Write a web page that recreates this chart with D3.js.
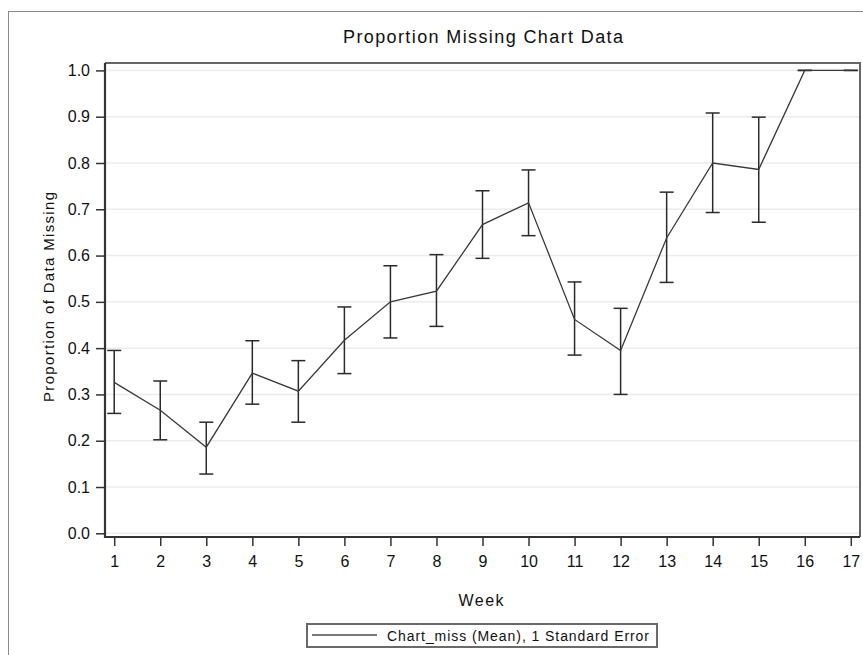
<!DOCTYPE html>
<html lang="en">
    <head>
        <meta charset="utf-8">
        <title>Proportion Missing Chart Data</title>
        <script src="https://cdn.jsdelivr.net/npm/d3@7"></script>
        <style type="text/css">
            body { margin: 0; background: #fff; }
            .axis text {
                font-family: "Liberation Sans", Arial, sans-serif;
                font-size: 16px;
                fill: #111;
            }
            .axis line { stroke: #333; stroke-width: 1.5px; }
            .axis path { display: none; }
            .lbl { font-family: "Liberation Sans", Arial, sans-serif; fill: #111; }
        </style>
    </head>
    <body>
        <script type="text/javascript">

            // data
            var weeks = [1,2,3,4,5,6,7,8,9,10,11,12,13,14,15,16,17];
            var meanMiss = [0.326,0.266,0.186,0.346,0.307,0.417,0.500,0.523,0.667,0.714,0.462,0.395,0.638,0.800,0.786,1.0,1.0];
            var upperSE = [0.395,0.329,0.240,0.416,0.373,0.489,0.578,0.602,0.740,0.785,0.543,0.486,0.737,0.908,0.899,1.0,1.0];
            var lowerSE = [0.259,0.202,0.128,0.279,0.240,0.345,0.422,0.447,0.594,0.643,0.385,0.300,0.542,0.693,0.672,1.0,1.0];
            var yTicks = [0,0.1,0.2,0.3,0.4,0.5,0.6,0.7,0.8,0.9,1.0];

            var w = 863, h = 655;
            var pLeft = 105, pRight = 860, pTop = 63, pBottom = 537;
            var capW = 7;

            var dataset = weeks.map(function(wk, i) {
                return { week: wk, mean: meanMiss[i], hi: upperSE[i], lo: lowerSE[i] };
            });

            var svg = d3.select("body")
                .append("svg")
                .attr("width", w)
                .attr("height", h);

            // outer frame of the graph
            svg.append("rect")
                .attr("x", 8.5).attr("y", 11.5)
                .attr("width", 900).attr("height", 700)
                .attr("fill", "none")
                .attr("stroke", "#8a8a8a");

            var xScale = d3.scaleLinear().domain([0.8, 17.2]).range([pLeft, pRight]);
            var yScale = d3.scaleLinear().domain([-0.008, 1.016]).range([pBottom, pTop]);

            // grid
            svg.append("g").selectAll("line")
                .data(yTicks)
                .enter()
                .append("line")
                .attr("x1", pLeft).attr("x2", pRight)
                .attr("y1", function(d){ return yScale(d); })
                .attr("y2", function(d){ return yScale(d); })
                .attr("stroke", "#ececec")
                .attr("stroke-width", 1.5);

            // frame top / right
            svg.append("path")
                .attr("d", "M" + pLeft + "," + pTop + "H" + pRight + "V" + pBottom)
                .attr("fill", "none")
                .attr("stroke", "#666")
                .attr("stroke-width", 2);

            // error bars
            var bars = svg.append("g")
                .attr("stroke", "#2a2a2a")
                .attr("stroke-width", 1.5)
                .selectAll("g")
                .data(dataset)
                .enter()
                .append("g");
            bars.append("line")
                .attr("x1", function(d){ return xScale(d.week); })
                .attr("x2", function(d){ return xScale(d.week); })
                .attr("y1", function(d){ return yScale(d.lo); })
                .attr("y2", function(d){ return yScale(d.hi); });
            bars.append("line")
                .attr("x1", function(d){ return xScale(d.week) - capW; })
                .attr("x2", function(d){ return xScale(d.week) + capW; })
                .attr("y1", function(d){ return yScale(d.hi); })
                .attr("y2", function(d){ return yScale(d.hi); });
            bars.append("line")
                .attr("x1", function(d){ return xScale(d.week) - capW; })
                .attr("x2", function(d){ return xScale(d.week) + capW; })
                .attr("y1", function(d){ return yScale(d.lo); })
                .attr("y2", function(d){ return yScale(d.lo); });

            // mean line
            var line = d3.line()
                .x(function(d){ return xScale(d.week); })
                .y(function(d){ return yScale(d.mean); });
            svg.append("path")
                .datum(dataset)
                .attr("d", line)
                .attr("fill", "none")
                .attr("stroke", "#3a3a3a")
                .attr("stroke-width", 1.3);

            // axes
            var xAxis = d3.axisBottom(xScale)
                .tickValues(weeks)
                .tickSize(9)
                .tickPadding(10)
                .tickFormat(d3.format("d"));
            var yAxis = d3.axisLeft(yScale)
                .tickValues(yTicks)
                .tickSize(9)
                .tickPadding(6)
                .tickFormat(d3.format(".1f"));
            svg.append("g")
                .attr("class", "axis")
                .attr("transform", "translate(0," + pBottom + ")")
                .call(xAxis);
            svg.append("g")
                .attr("class", "axis")
                .attr("transform", "translate(" + pLeft + ",0)")
                .call(yAxis);

            // axis lines left / bottom
            svg.append("path")
                .attr("d", "M" + pLeft + "," + pTop + "V" + pBottom + "H" + pRight)
                .attr("fill", "none")
                .attr("stroke", "#333")
                .attr("stroke-width", 2.2);

            // titles
            svg.append("text")
                .attr("class", "lbl")
                .attr("x", 483)
                .attr("y", 43)
                .attr("text-anchor", "middle")
                .attr("textLength", 280)
                .attr("lengthAdjust", "spacing")
                .style("font-size", "18px")
                .text("Proportion Missing Chart Data");
            svg.append("text")
                .attr("class", "lbl")
                .attr("transform", "translate(54,297) rotate(-90)")
                .attr("text-anchor", "middle")
                .attr("textLength", 210)
                .attr("lengthAdjust", "spacing")
                .style("font-size", "15px")
                .text("Proportion of Data Missing");
            svg.append("text")
                .attr("class", "lbl")
                .attr("x", 481)
                .attr("y", 606)
                .attr("text-anchor", "middle")
                .attr("textLength", 45)
                .attr("lengthAdjust", "spacing")
                .style("font-size", "16px")
                .text("Week");

            // legend
            var legend = svg.append("g");
            legend.append("rect")
                .attr("x", 307).attr("y", 624)
                .attr("width", 350).attr("height", 23)
                .attr("fill", "#fff")
                .attr("stroke", "#6a6a6a")
                .attr("stroke-width", 2);
            legend.append("line")
                .attr("x1", 312).attr("x2", 377)
                .attr("y1", 635).attr("y2", 635)
                .attr("stroke", "#777")
                .attr("stroke-width", 2);
            legend.append("text")
                .attr("class", "lbl")
                .attr("x", 387)
                .attr("y", 641)
                .attr("textLength", 262)
                .attr("lengthAdjust", "spacing")
                .style("font-size", "14px")
                .text("Chart_miss (Mean), 1 Standard Error");

        </script>
    </body>
</html>
